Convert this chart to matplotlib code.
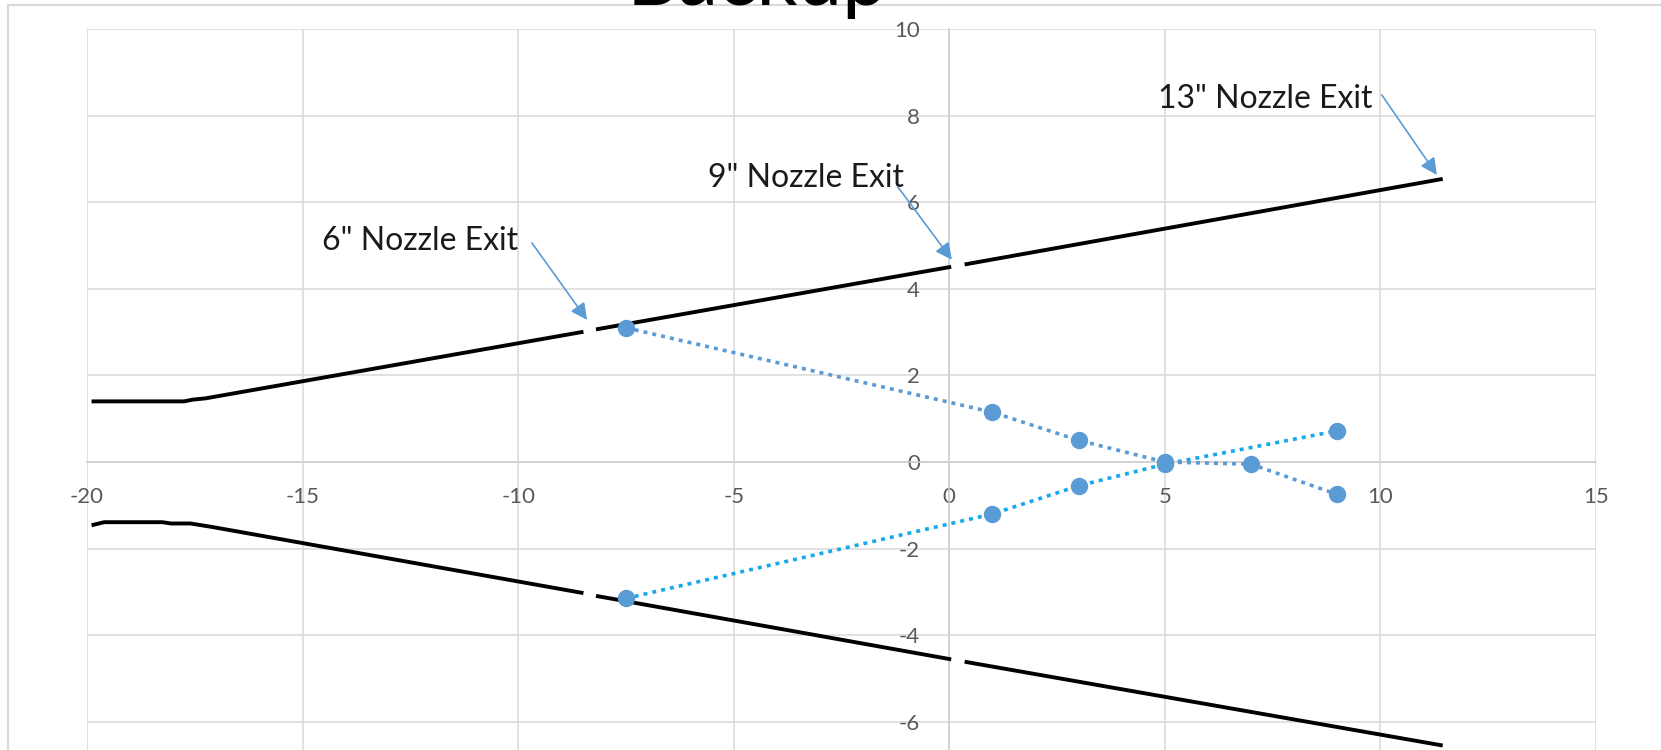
import matplotlib.pyplot as plt
import numpy as np
from matplotlib.lines import Line2D

plt.rcParams['font.family'] = ['Lato', 'DejaVu Sans']
plt.rcParams['axes.unicode_minus'] = False

W, H = 1661, 750

# nozzle wall contours, one piece per nozzle length
upper_6_x = [-19.85, -17.75, -17.55, -17.25, -8.53]
upper_6_y = [1.40, 1.40, 1.44, 1.47, 3.00]
upper_9_x = [-8.15, 0.0]
upper_9_y = [3.07, 4.50]
upper_13_x = [0.40, 11.40]
upper_13_y = [4.57, 6.53]

lower_6_x = [-19.85, -19.60, -18.25, -18.05, -17.60, -17.10, -8.53]
lower_6_y = [-1.45, -1.39, -1.39, -1.42, -1.42, -1.50, -3.02]
lower_9_x = [-8.15, 0.0]
lower_9_y = [-3.10, -4.55]
lower_13_x = [0.40, 11.40]
lower_13_y = [-4.62, -6.54]

# rays from the 6" exit lip
ray_down_x = [-7.5, 1, 3, 5, 7, 9]
ray_down_y = [3.10, 1.15, 0.50, 0.00, -0.05, -0.75]
ray_up_x = [-7.5, 1, 3, 5, 9]
ray_up_y = [-3.15, -1.20, -0.55, -0.05, 0.72]

x_ticks = np.arange(-20, 16, 5)
y_ticks = np.arange(-6, 11, 2)

labels = ['6" Nozzle Exit', '9" Nozzle Exit', '13" Nozzle Exit']
label_xy = [(-14.55, 4.9), (-5.6, 6.34), (4.84, 8.18)]
arrow_from = [(-9.68, 5.06), (-1.19, 6.35), (10.03, 8.48)]
arrow_to = [(-8.40, 3.28), (0.06, 4.67), (11.31, 6.63)]

fig = plt.figure(figsize=(W / 100, H / 100), dpi=100)
ax = fig.add_axes([87 / W, 1 - 895 / H, (1596 - 87) / W, (895 - 29) / H])

ax.set_xlim(-20, 15)
ax.set_ylim(-10, 10)
ax.set_xticks(x_ticks)
ax.set_yticks(y_ticks)
ax.grid(color='#D9D9D9', lw=1.1)
ax.set_axisbelow(True)
for s in ['top', 'right']:
    ax.spines[s].set_visible(False)
for s in ['left', 'bottom']:
    ax.spines[s].set_position(('data', 0))
    ax.spines[s].set_color('#D0D0D0')
    ax.spines[s].set_linewidth(1.1)
ax.tick_params(length=0, labelsize=16, labelcolor='#595959')
ax.tick_params(axis='x', pad=18)
ax.tick_params(axis='y', pad=21)

for xs, ys in [(upper_6_x, upper_6_y), (upper_9_x, upper_9_y), (upper_13_x, upper_13_y),
               (lower_6_x, lower_6_y), (lower_9_x, lower_9_y), (lower_13_x, lower_13_y)]:
    ax.plot(xs, ys, color='black', lw=2.8, zorder=3)

ax.plot(ray_up_x, ray_up_y, color='#17A9EC', lw=2.6, ls=(0, (1.1, 1.4)),
        marker='o', ms=11.5, mfc='#5B9BD5', mec='#5B9BD5', zorder=4)
ax.plot(ray_down_x, ray_down_y, color='#5B9BD5', lw=2.6, ls=(0, (1.1, 1.4)),
        marker='o', ms=11.5, mfc='#5B9BD5', mec='#5B9BD5', zorder=4)

for txt, pos, p0, p1 in zip(labels, label_xy, arrow_from, arrow_to):
    ax.text(pos[0], pos[1], txt, fontsize=23, color='#1a1a1a', va='baseline', ha='left', zorder=5)
    ax.annotate('', xy=p1, xytext=p0,
                arrowprops=dict(arrowstyle='-|>,head_length=0.5,head_width=0.25',
                                mutation_scale=20, color='#5B9BD5', lw=1.2,
                                shrinkA=0, shrinkB=0), zorder=5)

# slide frame and title
fig.add_artist(Line2D([7.5 / W, 7.5 / W], [0, 1 - 5 / H], transform=fig.transFigure,
                      color='#D9D9D9', lw=1.5, zorder=0))
fig.add_artist(Line2D([7.5 / W, 1], [1 - 5 / H, 1 - 5 / H], transform=fig.transFigure,
                      color='#D9D9D9', lw=1.5, zorder=0))
fig.text(757 / W, 1 - 5 / H, 'Backup', ha='center', va='baseline', fontsize=58, color='black')

fig.savefig('out.png', dpi=100)
